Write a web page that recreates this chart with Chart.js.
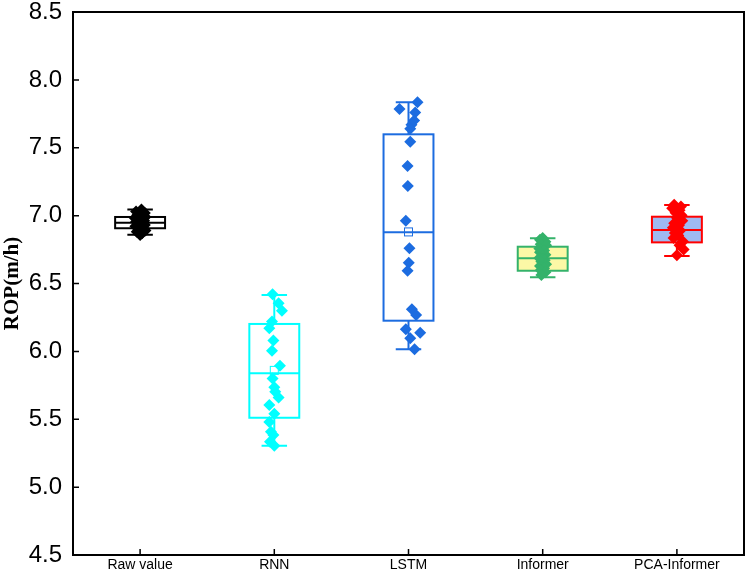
<!DOCTYPE html>
<html>
<head>
<meta charset="utf-8">
<script src="https://cdn.jsdelivr.net/npm/chart.js@4.4.1/dist/chart.umd.min.js"></script>
<style>
  html, body { margin: 0; padding: 0; background: #fff; }
  #wrap { width: 750px; height: 570px; }
</style>
</head>
<body>
<div id="wrap"><canvas id="chart"></canvas></div>
<script>
// categories and tick labels
const categories = ["Raw value", "RNN", "LSTM", "Informer", "PCA-Informer"];
const yTicks = [4.5, 5.0, 5.5, 6.0, 6.5, 7.0, 7.5, 8.0, 8.5];

// box statistics per category
const q1 = [6.907, 5.511, 6.226, 6.594, 6.803];
const medians = [6.948, 5.838, 6.877, 6.686, 6.894];
const q3 = [6.990, 6.202, 7.599, 6.771, 6.992];
const whiskerLow = [6.860, 5.305, 6.015, 6.546, 6.703];
const whiskerHigh = [7.045, 6.415, 7.835, 6.833, 7.078];
const means = [6.950, 5.860, 6.880, 6.690, 6.900];

// raw points (ROP values) and horizontal jitter (in category units)
const rawValues = [7.045, 7.03, 7.02, 7.004, 6.99, 6.982, 6.97, 6.962, 6.955, 6.948, 6.94, 6.931, 6.922, 6.91, 6.902, 6.89, 6.881, 6.87, 6.858];
const rawJitter = [0.01, -0.03, 0.035, -0.02, 0.04, -0.04, 0.0, 0.03, -0.03, 0.01, -0.015, 0.035, -0.035, 0.02, -0.01, 0.04, -0.025, 0.015, 0.0];

const rnnValues = [6.42, 6.355, 6.30, 6.22, 6.17, 6.08, 6.005, 5.895, 5.80, 5.735, 5.703, 5.66, 5.605, 5.54, 5.48, 5.408, 5.384, 5.335, 5.305];
const rnnJitter = [-0.013, 0.032, 0.057, -0.017, -0.037, -0.007, -0.017, 0.042, -0.013, 0.0, 0.007, 0.032, -0.037, 0.0, -0.037, -0.025, -0.007, -0.032, 0.0];

const lstmValues = [7.835, 7.785, 7.76, 7.70, 7.67, 7.64, 7.545, 7.365, 7.218, 6.963, 6.759, 6.653, 6.594, 6.31, 6.268, 6.163, 6.138, 6.096, 6.015];
const lstmJitter = [0.067, -0.067, 0.05, 0.042, 0.022, 0.013, 0.013, -0.007, -0.005, -0.02, 0.007, 0.002, -0.007, 0.025, 0.057, -0.02, 0.087, 0.013, 0.045];

const informerValues = [6.836, 6.822, 6.808, 6.79, 6.781, 6.758, 6.744, 6.731, 6.712, 6.703, 6.688, 6.671, 6.662, 6.641, 6.628, 6.612, 6.597, 6.583, 6.562];
const informerJitter = [0.0, -0.02, 0.02, -0.015, 0.025, -0.025, 0.01, -0.02, 0.02, 0.0, -0.025, 0.015, -0.01, 0.025, -0.02, 0.01, -0.015, 0.02, -0.01];

const pcaValues = [7.08, 7.068, 7.055, 7.04, 7.021, 7.003, 6.985, 6.962, 6.944, 6.93, 6.911, 6.89, 6.872, 6.853, 6.836, 6.81, 6.782, 6.75, 6.708];
const pcaJitter = [-0.02, 0.03, -0.035, 0.02, -0.01, 0.035, 0.0, 0.04, -0.02, 0.015, -0.03, 0.025, -0.015, 0.01, -0.025, 0.045, 0.02, 0.05, 0.0];

const pointValues = [rawValues, rnnValues, lstmValues, informerValues, pcaValues];
const pointJitter = [rawJitter, rnnJitter, lstmJitter, informerJitter, pcaJitter];

// styles
const lineColors = ["#000000", "#00FFFF", "#1C6CE0", "#34B26A", "#FF0000"];
const fillColors = ["#FFFFFF", "#FFFFFF", "#FFFFFF", "#FCF8A6", "#9FBAF2"];
const BOX_HALF = 0.186;
const CAP_HALF = 0.095;
const MEAN_HALF = 4;

// рисуем боксы, усы и медианы через шкалы графика
const boxPlugin = {
  id: "boxes",
  beforeDatasetsDraw(chart) {
    const { ctx, scales: { x, y } } = chart;
    categories.forEach((c, i) => {
      const cx = x.getPixelForValue(i + 0.5);
      const left = x.getPixelForValue(i + 0.5 - BOX_HALF);
      const right = x.getPixelForValue(i + 0.5 + BOX_HALF);
      const capL = x.getPixelForValue(i + 0.5 - CAP_HALF);
      const capR = x.getPixelForValue(i + 0.5 + CAP_HALF);
      const yq1 = y.getPixelForValue(q1[i]);
      const yq3 = y.getPixelForValue(q3[i]);
      const ymed = y.getPixelForValue(medians[i]);
      const ylo = y.getPixelForValue(whiskerLow[i]);
      const yhi = y.getPixelForValue(whiskerHigh[i]);
      ctx.save();
      ctx.strokeStyle = lineColors[i];
      ctx.lineWidth = 2;
      ctx.beginPath();
      ctx.moveTo(cx, yhi); ctx.lineTo(cx, yq3);
      ctx.moveTo(cx, yq1); ctx.lineTo(cx, ylo);
      ctx.moveTo(capL, yhi); ctx.lineTo(capR, yhi);
      ctx.moveTo(capL, ylo); ctx.lineTo(capR, ylo);
      ctx.stroke();
      ctx.fillStyle = fillColors[i];
      ctx.fillRect(left, yq3, right - left, yq1 - yq3);
      ctx.strokeRect(left, yq3, right - left, yq1 - yq3);
      ctx.beginPath();
      ctx.moveTo(left, ymed); ctx.lineTo(right, ymed);
      ctx.stroke();
      ctx.restore();
    });
  },
  afterDatasetsDraw(chart) {
    const { ctx, scales: { x, y } } = chart;
    categories.forEach((c, i) => {
      const cx = x.getPixelForValue(i + 0.5);
      const cy = y.getPixelForValue(means[i]);
      ctx.save();
      ctx.strokeStyle = lineColors[i];
      ctx.lineWidth = 1;
      ctx.strokeRect(cx - MEAN_HALF, cy - MEAN_HALF, MEAN_HALF * 2, MEAN_HALF * 2);
      ctx.restore();
    });
  },
  afterDraw(chart) {
    const { ctx, chartArea: a, scales: { x, y } } = chart;
    ctx.save();
    ctx.strokeStyle = "#000";
    ctx.lineWidth = 2;
    ctx.strokeRect(a.left, a.top, a.right - a.left, a.bottom - a.top);
    // засечки внутрь
    ctx.lineWidth = 1.5;
    ctx.beginPath();
    y.ticks.forEach((t) => {
      const py = y.getPixelForValue(t.value);
      ctx.moveTo(a.left, py); ctx.lineTo(a.left + 6, py);
    });
    x.ticks.forEach((t) => {
      const px = x.getPixelForValue(t.value);
      ctx.moveTo(px, a.bottom); ctx.lineTo(px, a.bottom - 6);
    });
    ctx.stroke();
    ctx.restore();
  },
};

const datasets = categories.map((c, i) => ({
  label: c,
  data: pointValues[i].map((v, k) => ({ x: i + 0.5 + pointJitter[i][k], y: v })),
  pointStyle: "rectRot",
  pointRadius: 6,
  pointBackgroundColor: lineColors[i],
  pointBorderWidth: 0,
  showLine: false,
}));

new Chart(document.getElementById("chart"), {
  type: "scatter",
  data: { datasets: datasets },
  plugins: [boxPlugin],
  options: {
    responsive: true,
    maintainAspectRatio: false,
    animation: false,
    layout: { padding: { top: 12, right: 4, left: 0, bottom: 0 } },
    plugins: { legend: { display: false }, tooltip: { enabled: false } },
    scales: {
      x: {
        type: "linear",
        min: 0,
        max: 5,
        afterBuildTicks: (s) => { s.ticks = categories.map((c, i) => ({ value: i + 0.5 })); },
        afterFit: (s) => {
          s.height = 15;
          s.paddingLeft = 0; s.paddingRight = 0;
        },
        grid: { display: true, drawOnChartArea: false, drawTicks: false },
        border: { display: false },
        ticks: {
          autoSkip: false,
          maxRotation: 0,
          padding: 2,
          color: "#000",
          font: { family: "'Liberation Sans', Arial, sans-serif", size: 14 },
          callback: (v, idx) => categories[idx],
        },
      },
      y: {
        min: 4.5,
        max: 8.5,
        afterBuildTicks: (s) => { s.ticks = yTicks.map((v) => ({ value: v })); },
        afterFit: (s) => {
          s.width = 73;
          s.paddingTop = 0; s.paddingBottom = 0;
        },
        grid: { display: true, drawOnChartArea: false, drawTicks: false },
        border: { display: false },
        ticks: {
          padding: 11,
          color: "#000",
          font: { family: "'Liberation Sans', Arial, sans-serif", size: 24 },
          callback: (v) => v.toFixed(1),
        },
        title: {
          display: true,
          text: "ROP(m/h)",
          color: "#000",
          padding: { top: 0, bottom: 0 },
          font: { family: "'Liberation Serif', 'Times New Roman', serif", size: 21, weight: "bold" },
        },
      },
    },
  },
});
</script>
</body>
</html>
